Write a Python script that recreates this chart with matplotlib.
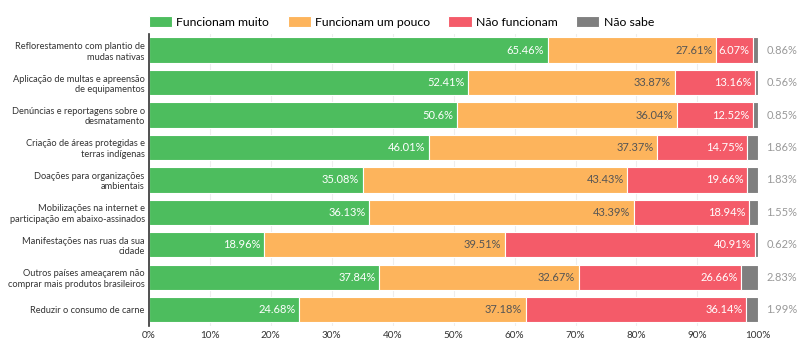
import numpy as np
import matplotlib.pyplot as plt

categories = ["Reflorestamento com plantio de\nmudas nativas",
              "Aplicação de multas e apreensão\nde equipamentos",
              "Denúncias e reportagens sobre o\ndesmatamento",
              "Criação de áreas protegidas e\nterras indígenas",
              "Doações para organizações\nambientais",
              "Mobilizações na internet e\nparticipação em abaixo-assinados",
              "Manifestações nas ruas da sua\ncidade",
              "Outros países ameaçarem não\ncomprar mais produtos brasileiros",
              "Reduzir o consumo de carne"]
muito = [65.46, 52.41, 50.6, 46.01, 35.08, 36.13, 18.96, 37.84, 24.68]
pouco = [27.61, 33.87, 36.04, 37.37, 43.43, 43.39, 39.51, 32.67, 37.18]
nao = [6.07, 13.16, 12.52, 14.75, 19.66, 18.94, 40.91, 26.66, 36.14]
nao_sabe = [0.86, 0.56, 0.85, 1.86, 1.83, 1.55, 0.62, 2.83, 1.99]
series_names = ["Funcionam muito", "Funcionam um pouco", "Não funcionam", "Não sabe"]
colors = ["#4dbd5e", "#fdb45c", "#f45b69", "#7f7f7f"]
label_colors = ["white", "#555555", "white", None]

plt.rcParams['font.family'] = ['Lato', 'DejaVu Sans']
fig = plt.figure(figsize=(8, 3.46), dpi=100)
ax = fig.add_axes([0.186, 0.058, 0.762, 0.844])

y = np.arange(len(categories))
left = np.zeros(len(categories))
for vals, name, c, lc in zip([muito, pouco, nao, nao_sabe], series_names, colors, label_colors):
    vals = np.array(vals)
    ax.barh(y, vals, left=left, height=0.78, color=c, edgecolor="white", linewidth=0.8, label=name)
    for i, v in enumerate(vals):
        if lc is None:
            ax.text(101.3, i, f"{v:g}%", va="center", ha="left", fontsize=8, color="#999999")
        else:
            ax.text(left[i] + v - 0.6, i, f"{v:g}%", va="center", ha="right", fontsize=8, color=lc)
    left += vals

ax.set_xlim(0, 100)
ax.set_ylim(len(categories) - 0.5, -0.5)
ax.set_yticks(y)
ax.set_yticklabels(categories, fontsize=6.7, color="#333333")
ax.set_xticks(np.arange(0, 101, 10))
ax.set_xticklabels([f"{t}%" for t in range(0, 101, 10)], fontsize=7.2, color="#333333")
ax.tick_params(length=0, pad=4)
ax.tick_params(axis="y", pad=3)
ax.grid(axis="x", color="#eeeeee", linewidth=0.8)
ax.set_axisbelow(True)
for s in ["top", "right", "bottom"]:
    ax.spines[s].set_visible(False)
ax.spines["left"].set_color("#333333")
ax.spines["left"].set_linewidth(1.2)

ax.legend(loc="lower left", bbox_to_anchor=(0.0, 1.02), ncol=4, frameon=False,
          fontsize=8.8, handlelength=1.9, handleheight=1.0, columnspacing=1.5,
          handletextpad=0.35, borderpad=0, borderaxespad=0)

fig.savefig("out.png", dpi=100)
